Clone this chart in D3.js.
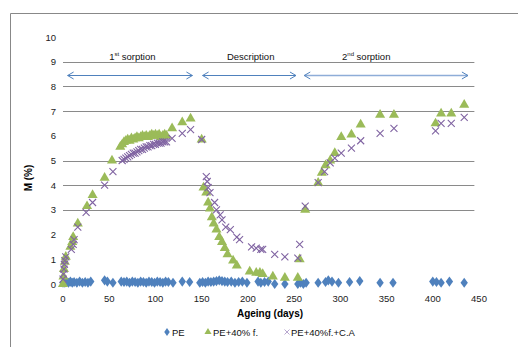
<!DOCTYPE html>
<html>
<head>
<meta charset="utf-8">
<script src="https://cdn.jsdelivr.net/npm/d3@7"></script>
<style>
  body { margin: 0; background: #fff; }
  svg { display: block; font-family: "Liberation Sans", Arial, sans-serif; }
</style>
</head>
<body>
<svg id="chart" width="518" height="347"></svg>
<script>
// values
const xTicks = [0, 50, 100, 150, 200, 250, 300, 350, 400, 450];
const yTicks = [0, 1, 2, 3, 4, 5, 6, 7, 8, 9, 10];
const gridAt = [3, 4, 5, 7, 8, 9];

const peDays = [0, 2, 4, 6, 8, 10, 12, 15, 18, 21, 24, 27, 30, 45, 48, 54, 63, 66, 69, 72, 75, 78, 81, 84, 87, 90, 93, 96, 99, 102, 105, 108, 111, 114, 119, 129, 137,
  148, 151, 154, 157, 160, 163, 166, 169, 172, 175, 178, 182, 186, 190, 194, 199, 211, 214, 218, 222, 229, 240, 254, 257, 260, 263,
  276, 284, 287, 291, 298, 310, 321, 343, 357, 400, 404, 409, 418, 434];
const peVals = [0.05, 0.05, 0.08, 0.05, 0.1, 0.05, 0.08, 0.05, 0.1, 0.05, 0.08, 0.05, 0.1, 0.15, 0.1, 0.05, 0.1, 0.08, 0.1, 0.05, 0.1, 0.08, 0.05, 0.1, 0.08, 0.05, 0.1, 0.08, 0.05, 0.1, 0.08, 0.05, 0.1, 0.08, 0.05, 0.1, 0.08,
  0.05, 0.08, 0.05, 0.1, 0.08, 0.1, 0.12, 0.15, 0.12, 0.1, 0.08, 0.1, 0.05, 0.08, 0.1, 0.05, 0.1, 0.05, 0.08, 0.1, 0.0, 0.0, 0.0, 0.05, 0.0, 0.05,
  0.05, 0.08, 0.15, 0.1, 0.05, 0.08, 0.12, 0.05, 0.05, 0.1, 0.08, 0.05, 0.1, 0.05];

const fDays = [0, 0.5, 1, 2, 3, 8, 10, 11, 16, 26, 32, 45, 53,
  62, 64, 66, 68, 70, 72, 74, 76, 78, 80, 82, 84, 86, 88, 90, 92, 94, 96, 98, 100, 102, 104, 106, 108, 110, 112,
  118, 129, 138, 150, 152, 155, 157, 159, 161, 163, 166, 169, 172, 175, 178, 184, 188, 202, 209, 213, 216, 227, 240, 254, 256,
  262, 276, 280, 284, 289, 294, 301, 312, 322, 343, 358, 403, 409, 420, 434];
const fVals = [0.0, 0.3, 0.6, 0.9, 1.1, 1.5, 1.7, 1.9, 2.45, 3.15, 3.6, 4.3, 5.0,
  5.55, 5.65, 5.75, 5.8, 5.85, 5.8, 5.9, 5.85, 5.9, 5.95, 5.9, 5.95, 6.0, 5.95, 6.0, 5.95, 6.0, 6.05, 6.0, 6.05, 6.0, 6.05, 5.95, 6.0, 6.05, 6.0,
  6.3, 6.55, 6.7, 5.85, 3.9, 3.7, 3.3, 3.05, 2.7, 2.45, 2.2, 1.9, 1.7, 1.45, 1.2, 0.95, 0.75, 0.5, 0.45, 0.45, 0.4, 0.3, 0.25, 0.25, 1.0,
  3.0, 4.1, 4.5, 4.8, 5.0, 5.3, 5.95, 6.05, 6.45, 6.85, 6.85, 6.5, 6.9, 6.9, 7.25];

const caDays = [0, 0.5, 1, 1.5, 2, 3, 9, 11, 12, 16, 25, 32, 45, 54,
  64, 66, 68, 70, 72, 74, 76, 78, 80, 82, 84, 86, 88, 90, 92, 94, 96, 98, 100, 102, 104, 106, 108, 110, 112,
  118, 129, 138, 150, 155, 156, 157, 159, 164, 166, 170, 172, 176, 181, 188, 191, 204, 209, 214, 216, 229, 240, 254, 256,
  262, 276, 283, 289, 294, 301, 312, 322, 343, 358, 403, 409, 420, 434];
const caVals = [0.2, 0.4, 0.6, 0.8, 0.95, 1.1, 1.4, 1.6, 1.8, 2.3, 2.9, 3.3, 4.0, 4.55,
  5.0, 5.05, 5.1, 5.15, 5.2, 5.25, 5.3, 5.3, 5.35, 5.4, 5.45, 5.45, 5.5, 5.55, 5.55, 5.6, 5.6, 5.65, 5.65, 5.7, 5.7, 5.7, 5.75, 5.75, 5.75,
  5.9, 6.1, 6.25, 5.85, 4.35, 4.15, 3.9, 3.7, 3.3, 3.0, 2.8, 2.6, 2.3, 2.2, 1.9, 1.8, 1.5, 1.45, 1.4, 1.4, 1.2, 1.1, 1.05, 1.6,
  3.15, 4.1, 4.55, 4.9, 5.1, 5.3, 5.5, 5.8, 6.1, 6.3, 6.2, 6.5, 6.5, 6.75];

const phases = [
  { label: "1", sup: "st", rest: " sorption", from: 5, to: 140, text: 75 },
  { label: "Description", sup: "", rest: "", from: 151, to: 252, text: 203 },
  { label: "2", sup: "nd", rest: " sorption", from: 261, to: 438, text: 328 }
];

const svg = d3.select("#chart");
const x = d3.scaleLinear().domain([0, 450]).range([63, 479]);
const y = d3.scaleLinear().domain([0, 10]).range([284, 37]);

// outer frame (only top and left show)
svg.append("path").attr("d", "M10.5,347V13.5H518")
  .attr("fill", "none").attr("stroke", "#888").attr("stroke-width", 1);

// gridlines
svg.append("g").selectAll("line").data(gridAt).join("line")
  .attr("x1", x(0)).attr("x2", x(445))
  .attr("y1", d => Math.round(y(d)) + 0.5).attr("y2", d => Math.round(y(d)) + 0.5)
  .attr("stroke", "#8a8a8a");

// axes as text only
svg.append("g").selectAll("text").data(yTicks).join("text")
  .attr("x", 56).attr("y", d => y(d) + 3.5)
  .attr("text-anchor", "end").attr("font-size", 9.5).attr("fill", "#222")
  .text(d => d);

svg.append("g").selectAll("text").data(xTicks).join("text")
  .attr("x", d => x(d)).attr("y", 301.5)
  .attr("text-anchor", "middle").attr("font-size", 9.5).attr("fill", "#222")
  .text(d => d);

svg.append("text").attr("x", 270).attr("y", 317)
  .attr("text-anchor", "middle").attr("font-size", 10).attr("font-weight", "bold")
  .text("Ageing (days)");

svg.append("text").attr("transform", "translate(32,178) rotate(-90)")
  .attr("text-anchor", "middle").attr("font-size", 10).attr("font-weight", "bold")
  .text("M (%)");

// phase arrows and labels
const ay = 75.5;
const ag = svg.append("g").attr("stroke", "#4F81BD").attr("fill", "none").attr("stroke-width", 1);
phases.forEach((p, i) => {
  const x1 = x(p.from), x2 = x(p.to);
  ag.append("line").attr("x1", x1).attr("x2", x2).attr("y1", ay).attr("y2", ay)
    .attr("stroke", i === 2 ? "#8EADD8" : "#4F81BD").attr("stroke-width", i === 2 ? 1.6 : 1);
  ag.append("path").attr("d", `M${x1 + 6},${ay - 3.5}L${x1},${ay}L${x1 + 6},${ay + 3.5}`);
  ag.append("path").attr("d", `M${x2 - 6},${ay - 3.5}L${x2},${ay}L${x2 - 6},${ay + 3.5}`);
  const t = svg.append("text").attr("x", x(p.text)).attr("y", 60)
    .attr("text-anchor", "middle").attr("font-size", 9.5).attr("fill", "#111");
  t.append("tspan").text(p.label);
  if (p.sup) {
    t.append("tspan").attr("font-size", 6).attr("dy", -4).text(p.sup);
    t.append("tspan").attr("dy", 4).text(p.rest);
  }
});

// series
const zip = (a, b) => a.map((d, i) => [d, b[i]]);
const diamond = d3.symbol().type(d3.symbolDiamond).size(30);
const triangle = d3.symbol().type(d3.symbolTriangle).size(44);

svg.append("g").selectAll("path").data(zip(peDays, peVals)).join("path")
  .attr("transform", d => `translate(${x(d[0])},${y(d[1])}) scale(1.25,1)`)
  .attr("d", diamond).attr("fill", "#4F81BD");

svg.append("g").selectAll("path").data(zip(fDays, fVals)).join("path")
  .attr("transform", d => `translate(${x(d[0])},${y(d[1])})`)
  .attr("d", triangle).attr("fill", "#9BBB59");

svg.append("g").selectAll("path").data(zip(caDays, caVals)).join("path")
  .attr("transform", d => `translate(${x(d[0])},${y(d[1])})`)
  .attr("d", "M-3.5,-3.5L3.5,3.5M-3.5,3.5L3.5,-3.5")
  .attr("stroke", "#8064A2").attr("stroke-width", 1.1).attr("fill", "none");

// legend
const lg = svg.append("g").attr("font-size", 9.5).attr("fill", "#111");
lg.append("path").attr("transform", "translate(167,332) scale(1.2,1)").attr("d", d3.symbol().type(d3.symbolDiamond).size(18)).attr("fill", "#4F81BD");
lg.append("text").attr("x", 172).attr("y", 335.5).text("PE");
lg.append("path").attr("transform", "translate(208,332)").attr("d", d3.symbol().type(d3.symbolTriangle).size(22)).attr("fill", "#9BBB59");
lg.append("text").attr("x", 213).attr("y", 335.5).text("PE+40% f.");
lg.append("path").attr("transform", "translate(287,332)").attr("d", "M-2.5,-2.5L2.5,2.5M-2.5,2.5L2.5,-2.5").attr("stroke", "#B7A6CF").attr("fill", "none");
lg.append("text").attr("x", 291).attr("y", 335.5).text("PE+40%f.+C.A");
</script>
</body>
</html>
